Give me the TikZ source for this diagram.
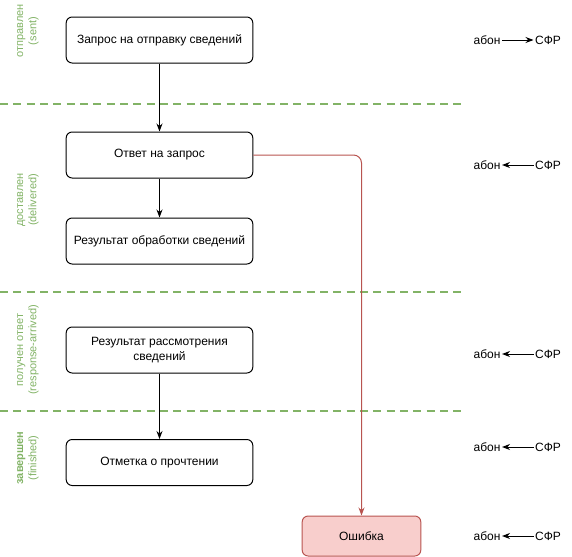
\documentclass[tikz,border=0pt]{standalone}
\usepackage{fontspec}
\setmainfont{Liberation Sans}
\usetikzlibrary{arrows.meta}
\definecolor{stagegreen}{HTML}{82B366}
\definecolor{errline}{HTML}{B85450}
\definecolor{errfill}{HTML}{F8CECC}

\begin{document}
\begin{tikzpicture}[x=0.75pt,y=-0.75pt,
	stepbox/.style={draw, line width=0.75pt, rounded corners=4.5pt, minimum width=140pt, minimum height=34.5pt, align=center, font=\fontsize{9}{11}\selectfont},
	errbox/.style={stepbox, draw=errline, fill=errfill, minimum width=89pt, minimum height=30pt},
	flow/.style={-{Stealth[length=6pt,width=4.5pt]}, line width=0.75pt},
	errflow/.style={flow, draw=errline, rounded corners=6pt},
	stagesep/.style={draw=stagegreen, line width=1.5pt, dash pattern=on 6pt off 4pt},
	stagelbl/.style={rotate=90, text=stagegreen, align=center, font=\fontsize{8.25}{10}\selectfont},
	party/.style={inner sep=1pt, font=\fontsize{9}{11}\selectfont}]
			%%%%% FRAME %%%%%
			\useasboundingbox (0, 0) rectangle (572, 557);
			
			%%%%% STAGES %%%%%
			\draw[stagesep] (0, 104) -- (462, 104);
			\draw[stagesep] (0, 292) -- (462, 292);
			\draw[stagesep] (0, 411) -- (462, 411);
			
			\node[stagelbl] (lsent) at (28, 31) {отправлен\\(sent)};
			\node[stagelbl] (ldeliv) at (28, 200) {доставлен\\(delivered)};
			\node[stagelbl] (lresp) at (28, 350) {получен ответ\\(response-arrived)};
			\node[stagelbl, font=\fontsize{8.25}{10}\selectfont\bfseries] (lfin) at (28, 458) {завершен\\{\mdseries(finished)}};
			
			%%%%% STEPS %%%%%
			\node[stepbox] (req) at (159.5, 40) {Запрос на отправку сведений};
			\node[stepbox] (ans) at (159.5, 155) {Ответ на запрос};
			\node[stepbox] (proc) at (159.5, 241) {Результат обработки сведений};
			\node[stepbox] (review) at (159.5, 350) {Результат рассмотрения\\сведений};
			\node[stepbox] (mark) at (159.5, 462.5) {Отметка о прочтении};
			\node[errbox] (err) at (361.5, 536) {Ошибка};
			
			\draw[flow] (req) -- (ans);
			\draw[flow] (ans) -- (proc);
			\draw[flow] (review) -- (mark);
			\draw[errflow] (ans.east) -| (err.north);
			
			%%%%% DIRECTIONS %%%%%
			\node[party] (ab1) at (487, 40) {абон};
			\node[party] (sfr1) at (548, 40) {СФР};
			\draw[flow] (ab1) -- (sfr1);
			
			\node[party] (ab2) at (487, 165) {абон};
			\node[party] (sfr2) at (548, 165) {СФР};
			\draw[flow] (sfr2) -- (ab2);
			
			\node[party] (ab3) at (487, 354) {абон};
			\node[party] (sfr3) at (548, 354) {СФР};
			\draw[flow] (sfr3) -- (ab3);
			
			\node[party] (ab4) at (487, 447) {абон};
			\node[party] (sfr4) at (548, 447) {СФР};
			\draw[flow] (sfr4) -- (ab4);
			
			\node[party] (ab5) at (487, 536) {абон};
			\node[party] (sfr5) at (548, 536) {СФР};
			\draw[flow] (sfr5) -- (ab5);
\end{tikzpicture}
\end{document}
